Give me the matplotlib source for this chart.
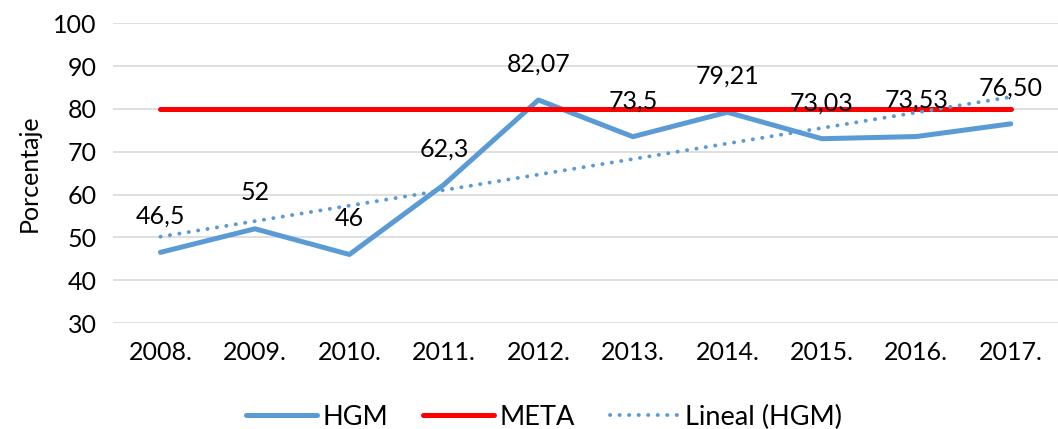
import matplotlib.pyplot as plt
import numpy as np

YEARS = ['2008.', '2009.', '2010.', '2011.', '2012.', '2013.', '2014.', '2015.', '2016.', '2017.']
HGM = [46.5, 52, 46, 62.3, 82.07, 73.5, 79.21, 73.03, 73.53, 76.5]
HGM_LABELS = ['46,5', '52', '46', '62,3', '82,07', '73,5', '79,21', '73,03', '73,53', '76,50']
META = [80] * 10

BLUE = '#5B9BD5'
RED = '#FF0000'
FONT_SIZE = 18

plt.rcParams['font.family'] = ['Lato', 'DejaVu Sans']

fig = plt.figure(figsize=(10.58, 4.29), dpi=100)
ax = fig.add_axes([0.107, 0.247, 0.893, 0.699])

x = np.arange(len(YEARS))
# excel style linear trendline fitted on the HGM series
slope, intercept = np.polyfit(x, HGM, 1)
trend = slope * x + intercept

ax.plot(x, HGM, color=BLUE, lw=3.6, solid_capstyle='round', label='HGM', zorder=3)
ax.plot(x, META, color=RED, lw=3.6, solid_capstyle='round', label='META', zorder=4)
ax.plot(x, trend, color=BLUE, lw=2.8, linestyle=(0, (0.05, 2.4)), dash_capstyle='round',
        label='Lineal (HGM)', zorder=5)

for xi, v, lab in zip(x, HGM, HGM_LABELS):
    ax.annotate(lab, (xi, v), xytext=(0, 36), textcoords='offset pixels',
                ha='center', va='center', fontsize=FONT_SIZE, zorder=6)

ax.set_xlim(-0.5, len(YEARS) - 0.5)
ax.set_ylim(30, 100)
ax.set_yticks(range(30, 101, 10))
ax.set_xticks(x)
ax.set_xticklabels(YEARS)
ax.tick_params(axis='both', length=0, labelsize=FONT_SIZE, colors='black')
ax.tick_params(axis='x', pad=13)
ax.tick_params(axis='y', pad=12)
ax.grid(axis='y', color='#D9D9D9', lw=1.2)
ax.set_axisbelow(True)
for s in ax.spines.values():
    s.set_visible(False)
ax.set_ylabel('Porcentaje', fontsize=FONT_SIZE, labelpad=9)

fig.legend(loc='center left', bbox_to_anchor=(0.215, 0.028), ncol=3, frameon=False,
           fontsize=19.5, handlelength=2.6, columnspacing=1.3, handletextpad=0.2,
           borderaxespad=0.3)

fig.savefig('out.png', dpi=100)
